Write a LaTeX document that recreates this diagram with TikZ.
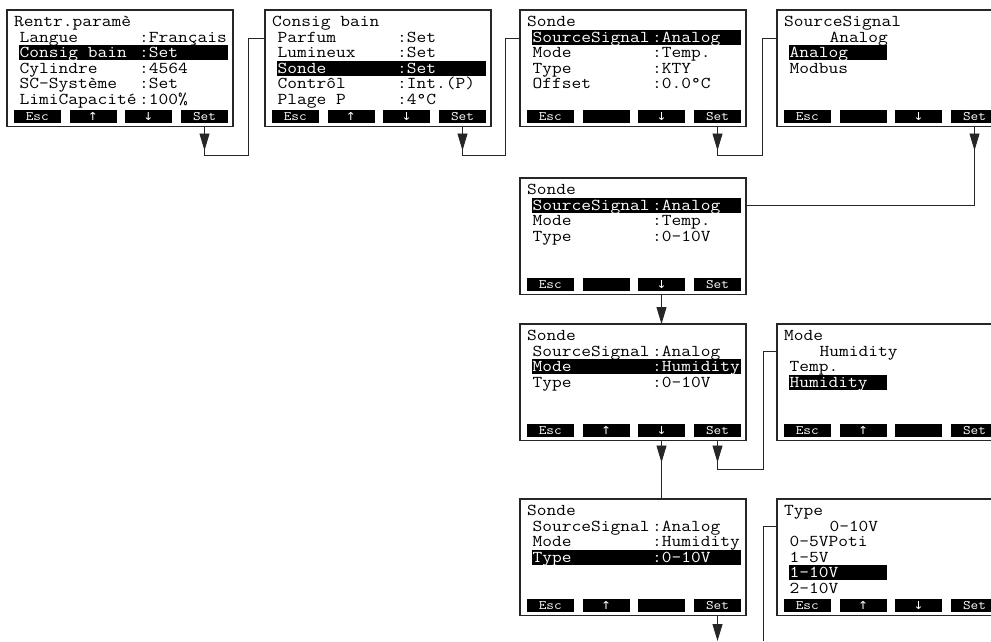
\documentclass[tikz,border=0pt]{standalone}
\usepackage{fontspec}
\usepackage{graphicx}
\setmainfont{Latin Modern Mono}
\newfontfamily\symf{DejaVu Sans}
\usetikzlibrary{arrows.meta,decorations.markings}
\tikzset{
  screen/.style={draw=black!85, line width=1.3pt, anchor=north west, minimum width=226pt, minimum height=116.5pt, inner sep=0pt, outer sep=0pt},
  txt/.style={anchor=base west, inner sep=0pt, font=\fontsize{16.6}{18}\selectfont},
  htxt/.style={txt, text=white},
  btn/.style={fill=black, text=white, minimum width=47pt, minimum height=12.5pt, inner sep=0pt, font=\fontsize{13}{14}\selectfont, text height=7.5pt, text depth=0pt},
  conn/.style={draw=black!85, line width=0.9pt},
  >={Triangle[length=17pt,width=10pt]},
  midarrow/.style={postaction={decorate,decoration={markings,mark=at position #1 with {\arrow{>}}}}}
}
\newcommand\wide[1]{\scalebox{1.14}[1]{#1}}
\newcommand\mylab[4]{\node[txt] (#1) at (#3,{16.8+15.5*#2}) {\wide{#4}};}
\newcommand\myhlab[4]{\node[htxt] (#1) at (#3,{16.8+15.5*#2}) {\wide{#4}};}
\newcommand\mybar[3]{\fill (#2,{4.2+15.5*#1}) rectangle (#3,{19.4+15.5*#1});}
\newcommand\mybtns[5]{%
  \node[btn] (#1a) at (30.25,106.25) {\wide{#2}};
  \node[btn] (#1b) at (86,106.25) {\wide{#3}};
  \node[btn] (#1c) at (141.5,106.25) {\wide{#4}};
  \node[btn] (#1d) at (197.5,106.25) {\wide{#5}};}
\newcommand\upar{{\symf\fontsize{11}{11}\selectfont ↑}}
\newcommand\dnar{{\symf\fontsize{11}{11}\selectfont ↓}}
\begin{document}
\begin{tikzpicture}[x=1pt,y=-1pt]
\useasboundingbox (0,0) rectangle (991,641);
\clip (0,0) rectangle (991,641);
% Screen 1
\begin{scope}[shift={(7,10)}]
  \node[screen] (s1) at (0,0) {};
  \mylab{s1t}{0}{7}{Rentr.paramè}
  \mylab{s1l1}{1}{12.5}{Langue}
  \mylab{s1v1}{1}{132}{:Français}
  \mybar{2}{12}{221}
  \myhlab{s1l2}{2}{12.5}{Consig bain}
  \myhlab{s1v2}{2}{132}{:Set}
  \mylab{s1l3}{3}{12.5}{Cylindre}
  \mylab{s1v3}{3}{132}{:4564}
  \mylab{s1l4}{4}{12.5}{SC-Système}
  \mylab{s1v4}{4}{132}{:Set}
  \mylab{s1l5}{5}{12.5}{LimiCapacité}
  \mylab{s1v5}{5}{132}{:100\%}
  \mybtns{s1}{Esc}{\upar}{\dnar}{Set}
\end{scope}
% Screen 2
\begin{scope}[shift={(265,10)}]
  \node[screen] (s2) at (0,0) {};
  \mylab{s2t}{0}{7}{Consig bain}
  \mylab{s2l1}{1}{12.5}{Parfum}
  \mylab{s2v1}{1}{132}{:Set}
  \mylab{s2l2}{2}{12.5}{Lumineux}
  \mylab{s2v2}{2}{132}{:Set}
  \mybar{3}{12}{221}
  \myhlab{s2l3}{3}{12.5}{Sonde}
  \myhlab{s2v3}{3}{132}{:Set}
  \mylab{s2l4}{4}{12.5}{Contrôl}
  \mylab{s2v4}{4}{132}{:Int.(P)}
  \mylab{s2l5}{5}{12.5}{Plage P}
  \mylab{s2v5}{5}{132}{:4°C}
  \mybtns{s2}{Esc}{\upar}{\dnar}{Set}
\end{scope}
% Screen 3
\begin{scope}[shift={(520,10)}]
  \node[screen] (s3) at (0,0) {};
  \mylab{s3t}{0}{7}{Sonde}
  \mybar{1}{12}{221}
  \myhlab{s3l1}{1}{12.5}{SourceSignal}
  \myhlab{s3v1}{1}{132}{:Analog}
  \mylab{s3l2}{2}{12.5}{Mode}
  \mylab{s3v2}{2}{132}{:Temp.}
  \mylab{s3l3}{3}{12.5}{Type}
  \mylab{s3v3}{3}{132}{:KTY}
  \mylab{s3l4}{4}{12.5}{Offset}
  \mylab{s3v4}{4}{132}{:0.0°C}
  \mybtns{s3}{Esc}{}{\dnar}{Set}
\end{scope}
% Screen 4
\begin{scope}[shift={(777,10)}]
  \node[screen] (s4) at (0,0) {};
  \mylab{s4t}{0}{7}{SourceSignal}
  \mylab{s4i}{1}{52.3}{Analog}
  \mybar{2}{12}{110}
  \myhlab{s4l2}{2}{12.5}{Analog}
  \mylab{s4l3}{3}{12.5}{Modbus}
  \mybtns{s4}{Esc}{}{\dnar}{Set}
\end{scope}
% Screen 5
\begin{scope}[shift={(520,178)}]
  \node[screen] (s5) at (0,0) {};
  \mylab{s5t}{0}{7}{Sonde}
  \mybar{1}{12}{221}
  \myhlab{s5l1}{1}{12.5}{SourceSignal}
  \myhlab{s5v1}{1}{132}{:Analog}
  \mylab{s5l2}{2}{12.5}{Mode}
  \mylab{s5v2}{2}{132}{:Temp.}
  \mylab{s5l3}{3}{12.5}{Type}
  \mylab{s5v3}{3}{132}{:0-10V}
  \mybtns{s5}{Esc}{}{\dnar}{Set}
\end{scope}
% Screen 6
\begin{scope}[shift={(520,324)}]
  \node[screen] (s6) at (0,0) {};
  \mylab{s6t}{0}{7}{Sonde}
  \mylab{s6l1}{1}{12.5}{SourceSignal}
  \mylab{s6v1}{1}{132}{:Analog}
  \mybar{2}{12}{221}
  \myhlab{s6l2}{2}{12.5}{Mode}
  \myhlab{s6v2}{2}{132}{:Humidity}
  \mylab{s6l3}{3}{12.5}{Type}
  \mylab{s6v3}{3}{132}{:0-10V}
  \mybtns{s6}{Esc}{\upar}{\dnar}{Set}
\end{scope}
% Screen 7
\begin{scope}[shift={(777,324)}]
  \node[screen] (s7) at (0,0) {};
  \mylab{s7t}{0}{7}{Mode}
  \mylab{s7i}{1}{42.4}{Humidity}
  \mylab{s7l2}{2}{12.5}{Temp.}
  \mybar{3}{12}{110}
  \myhlab{s7l3}{3}{12.5}{Humidity}
  \mybtns{s7}{Esc}{\upar}{}{Set}
\end{scope}
% Screen 8
\begin{scope}[shift={(520,499)}]
  \node[screen] (s8) at (0,0) {};
  \mylab{s8t}{0}{7}{Sonde}
  \mylab{s8l1}{1}{12.5}{SourceSignal}
  \mylab{s8v1}{1}{132}{:Analog}
  \mylab{s8l2}{2}{12.5}{Mode}
  \mylab{s8v2}{2}{132}{:Humidity}
  \mybar{3}{12}{221}
  \myhlab{s8l3}{3}{12.5}{Type}
  \myhlab{s8v3}{3}{132}{:0-10V}
  \mybtns{s8}{Esc}{\upar}{}{Set}
\end{scope}
% Screen 9
\begin{scope}[shift={(777,499)}]
  \node[screen] (s9) at (0,0) {};
  \mylab{s9t}{0}{7}{Type}
  \mylab{s9i}{1}{52.3}{0-10V}
  \mylab{s9l2}{2}{12.5}{0-5VPoti}
  \mylab{s9l3}{3}{12.5}{1-5V}
  \mybar{4}{12}{110}
  \myhlab{s9l4}{4}{12.5}{1-10V}
  \mylab{s9l5}{5}{12.5}{2-10V}
  \mybtns{s9}{Esc}{\upar}{\dnar}{Set}
\end{scope}
% connectors
\coordinate (j1) at (248,155);
\coordinate (j2) at (505.5,155);
\coordinate (j3) at (762.5,155);
\coordinate (j6) at (763,469);
\coordinate (e8) at (717.5,641);
\coordinate (e9) at (763,641);
\draw[conn, midarrow=24pt] (s1d |- s1.south) |- (j1) |- (s2.west |- 0,38.5);
\draw[conn, midarrow=24pt] (s2d |- s2.south) |- (j2) |- (s3.west |- 0,38.5);
\draw[conn, midarrow=24pt] (s3d |- s3.south) |- (j3) |- (s4.west |- 0,38.5);
\draw[conn, midarrow=24pt] (s4d |- s4.south) |- (s5.east |- 0,205.2);
\draw[conn, ->] (s5c |- s5.south) -- (s5c |- s6.north);
\draw[conn, midarrow=22pt] (s6c |- s6.south) -- (s6c |- s8.north);
\draw[conn, midarrow=22pt] (s6d |- s6.south) |- (j6) |- (s7.west |- 0,351.2);
\draw[conn, ->] (s8d |- s8.south) -- (s8d |- e8);
\draw[conn] (e9) |- (s9.west |- 0,526.2);
\end{tikzpicture}
\end{document}
